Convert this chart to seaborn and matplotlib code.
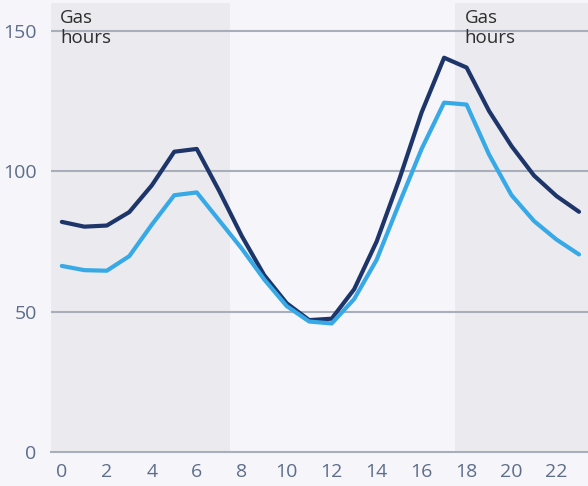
import pandas as pd
import matplotlib.pyplot as plt
import seaborn as sns

hours = list(range(24))
dark_series = [82, 80.3, 80.7, 85.5, 95, 107, 108, 93, 77, 63, 53, 47, 47.5, 58, 75, 97, 121, 140.5, 137, 121.5, 109, 98.5, 91.2, 85.6]
light_series = [66.3, 64.8, 64.6, 69.8, 81, 91.5, 92.5, 82.5, 72.5, 61.5, 52, 46.5, 45.8, 54.5, 68.5, 88.5, 108, 124.5, 123.8, 106, 91.5, 82.3, 75.7, 70.4]
gas_spans = [(-0.5, 7.5), (17.5, 23.5)]
y_ticks = [0, 50, 100, 150]
x_ticks = list(range(0, 24, 2))

df = pd.DataFrame({
    "hour": hours * 2,
    "value": dark_series + light_series,
    "series": ["dark"] * 24 + ["light"] * 24,
})

sns.set_style("white")
plt.rcParams["font.family"] = ["Open Sans", "DejaVu Sans"]

bg = "#f5f5fa"
fig = plt.figure(figsize=(5.88, 4.86), dpi=100, facecolor=bg)
ax = fig.add_axes([50.6 / 588, 34 / 486, 537.4 / 588, 449 / 486])
ax.set_facecolor(bg)

# shaded gas hours
for lo, hi in gas_spans:
    ax.axvspan(lo, hi, color="#eaeaef", lw=0, zorder=0)
    ax.text(lo + 0.42, 158, "Gas\nhours", fontsize=13.5, color="#2e2e2e",
            va="top", ha="left", linespacing=1.2, zorder=3)

for y in y_ticks[1:]:
    ax.axhline(y, color="#a9aebb", lw=1.5, zorder=1)

sns.lineplot(data=df, x="hour", y="value", hue="series",
             palette={"dark": "#1d3569", "light": "#36a9e6"},
             linewidth=3, legend=False, ax=ax, zorder=4,
             solid_joinstyle="round", solid_capstyle="round")

ax.set_xlim(-0.5, 23.4)
ax.set_ylim(0, 160)
ax.set_xticks(x_ticks)
ax.set_yticks(y_ticks)
ax.set_xlabel("")
ax.set_ylabel("")

for s in ["top", "right", "left"]:
    ax.spines[s].set_visible(False)
ax.spines["bottom"].set_color("#a9aebb")
ax.spines["bottom"].set_linewidth(1.5)

ax.tick_params(axis="x", colors="#a9aebb", length=5, width=1.5, pad=3,
               labelcolor="#5d6d8a", labelsize=14)
ax.tick_params(axis="y", length=0, pad=10, labelcolor="#5d6d8a", labelsize=14)

fig.savefig("out.png", dpi=100, facecolor=bg)
